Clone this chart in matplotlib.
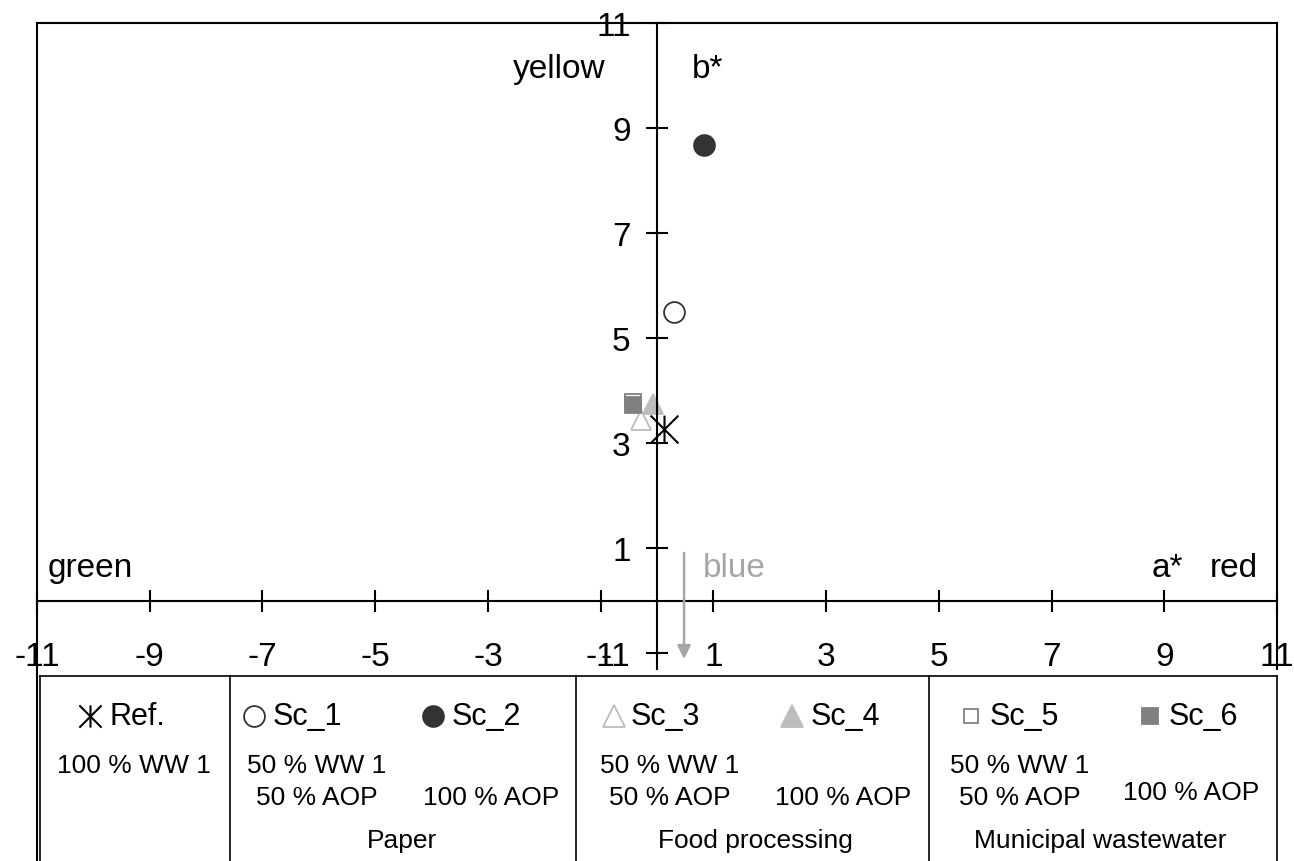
import matplotlib
matplotlib.use("Agg")
import matplotlib.pyplot as plt
from matplotlib.lines import Line2D
from matplotlib.path import Path

plt.rcParams['font.family'] = ['Liberation Sans', 'DejaVu Sans']
plt.rcParams['axes.unicode_minus'] = False

# data (CIELAB a*, b*)
names = ['Ref.', 'Sc_1', 'Sc_2', 'Sc_3', 'Sc_4', 'Sc_5', 'Sc_6']
a_star = [0.13, 0.30, 0.83, -0.28, -0.07, -0.42, -0.42]
b_star = [3.27, 5.49, 8.67, 3.45, 3.75, 3.79, 3.73]
mixes = ['100 % WW 1', '50 % WW 1\n50 % AOP', '100 % AOP',
         '50 % WW 1\n50 % AOP', '100 % AOP', '50 % WW 1\n50 % AOP', '100 % AOP']
groups = ['Paper', 'Food processing', 'Municipal wastewater']
x_ticks = [-11, -9, -7, -5, -3, -1, 1, 3, 5, 7, 9, 11]
y_ticks = [-1, 1, 3, 5, 7, 9, 11]

W, H = 1294, 862


def fx(px):
    return px / W


def fy(py):
    return 1 - py / H


# asterisk marker: vertical bar plus an x
star = Path([(0, -1), (0, 1), (-1, -1), (1, 1), (-1, 1), (1, -1)],
            [Path.MOVETO, Path.LINETO] * 3)

dark = '#333333'
light = '#bdbdbd'
mid = '#808080'
styles = [
    dict(marker=star, ms=20, mfc='none', mec='black', mew=1.5),
    dict(marker='o', ms=15, mfc='white', mec=dark, mew=1.3),
    dict(marker='o', ms=15, mfc=dark, mec=dark, mew=1.3),
    dict(marker='^', ms=15, mfc='white', mec=light, mew=1.3),
    dict(marker='^', ms=15, mfc=light, mec=light, mew=1.3),
    dict(marker='s', ms=12, mfc='white', mec=mid, mew=1.3),
    dict(marker='s', ms=12, mfc=mid, mec=mid, mew=1.3),
]
legend_ms = [16, 15, 15, 16, 16, 10, 12]

fig = plt.figure(figsize=(W / 100, H / 100), dpi=100)
ax = fig.add_axes([fx(37), fy(670), fx(1277) - fx(37), fy(24) - fy(670)])

for i in range(len(names)):
    ax.plot([a_star[i]], [b_star[i]], linestyle='none', **styles[i])

ax.set_xlim(-11, 11)
ax.set_ylim(-1.3, 11)
ax.spines['left'].set_position(('data', 0))
ax.spines['bottom'].set_position(('data', 0))
for s in ['left', 'bottom', 'top', 'right']:
    ax.spines[s].set_linewidth(1.5)
ax.set_xticks(x_ticks)
ax.set_yticks(y_ticks)
ax.set_xticklabels([str(v) for v in x_ticks])
ax.set_yticklabels([str(v) for v in y_ticks])
ax.tick_params(axis='x', direction='inout', length=16, width=1.5, labelsize=24, pad=21)
ax.tick_params(axis='y', direction='inout', length=16, width=1.5, labelsize=24, pad=11)

ax.text(-0.92, 9.98, 'yellow', fontsize=24, ha='right', va='baseline')
ax.text(0.62, 9.98, 'b*', fontsize=24, ha='left', va='baseline')
ax.text(-10.82, 0.47, 'green', fontsize=24, ha='left', va='baseline')
ax.text(0.82, 0.47, 'blue', fontsize=24, ha='left', va='baseline', color='#a6a6a6')
ax.text(8.77, 0.47, 'a*', fontsize=24, ha='left', va='baseline')
ax.text(9.81, 0.47, 'red', fontsize=24, ha='left', va='baseline')
ax.annotate('', xy=(0.48, -1.11), xytext=(0.48, 0.91),
            arrowprops=dict(arrowstyle='-|>', color='#a6a6a6', lw=1.8,
                            mutation_scale=20, shrinkA=0, shrinkB=0))

# left frame line runs down through the table
fig.add_artist(Line2D([fx(37), fx(37)], [fy(24), fy(862)], color='black', lw=1.5))

# legend table
table_x = [40, 230, 576, 929, 1277]
fig.add_artist(Line2D([fx(40), fx(1277)], [fy(676.5), fy(676.5)], color='black', lw=1.2))
for px in table_x:
    fig.add_artist(Line2D([fx(px), fx(px)], [fy(676.5), fy(862)], color='black', lw=1.2))

mark_x = [90, 254, 433, 614, 792, 971, 1150]
name_x = [110, 273, 452, 631, 811, 990, 1169]
for i in range(len(names)):
    st = dict(styles[i])
    st['ms'] = legend_ms[i]
    fig.add_artist(Line2D([fx(mark_x[i])], [fy(717)], linestyle='none', **st))
    fig.text(fx(name_x[i]), fy(717), names[i], fontsize=22, ha='left', va='center')

fig.text(fx(57), fy(766), mixes[0], fontsize=19, ha='left', va='center')
ww_x = [247, 600, 950]
aop_x = [256, 609, 959]
full_x = [423, 775, 1123]
full_y = [798, 798, 793]
for k in range(3):
    fig.text(fx(ww_x[k]), fy(766), '50 % WW 1', fontsize=19, ha='left', va='center')
    fig.text(fx(aop_x[k]), fy(798), '50 % AOP', fontsize=19, ha='left', va='center')
    fig.text(fx(full_x[k]), fy(full_y[k]), '100 % AOP', fontsize=19, ha='left', va='center')

group_x = [402, 755, 1100]
for k in range(3):
    fig.text(fx(group_x[k]), fy(841), groups[k], fontsize=19, ha='center', va='center')

fig.savefig('out.png', dpi=100)
